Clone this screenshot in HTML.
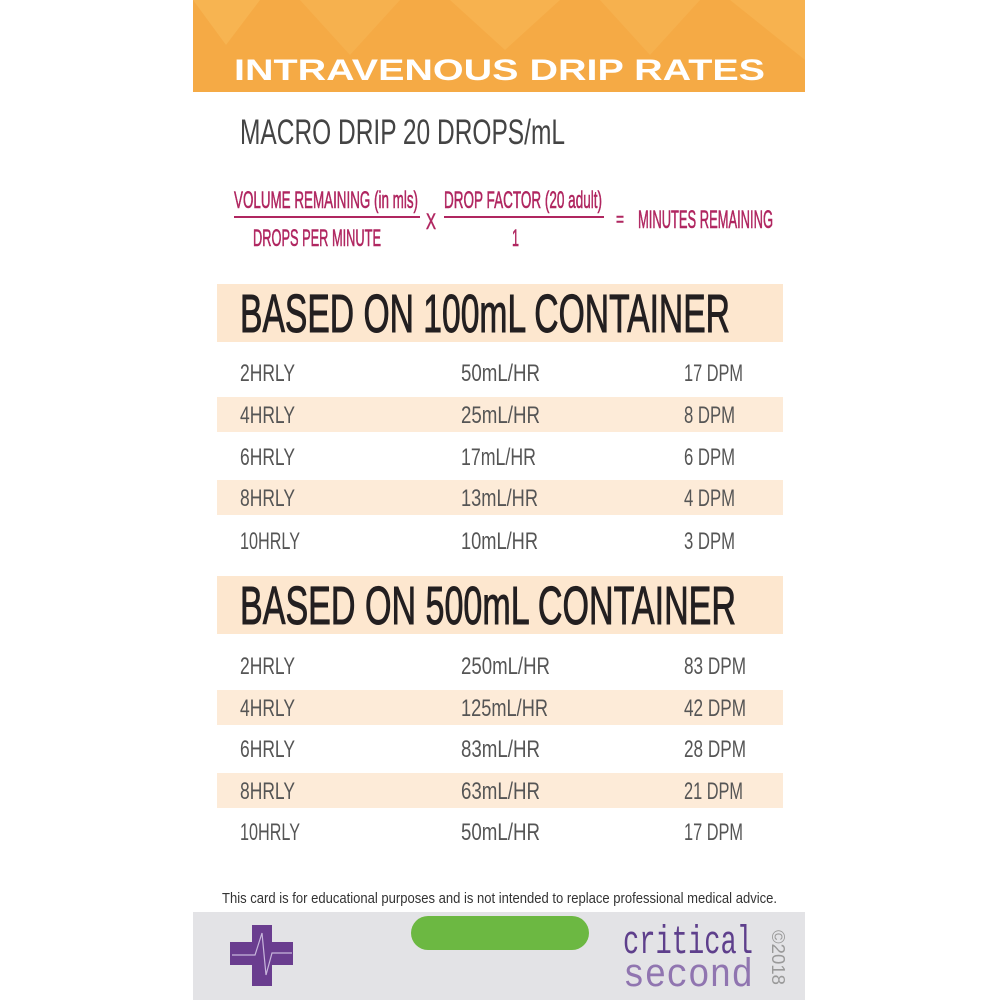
<!DOCTYPE html>
<html><head><meta charset="utf-8"><style>html,body{margin:0;padding:0;background:#fff}svg{display:block}</style></head>
<body>
<svg width="1000" height="1000" viewBox="0 0 1000 1000" xmlns="http://www.w3.org/2000/svg" font-family="Liberation Sans, sans-serif">
<rect width="1000" height="1000" fill="#fff"/>
<rect x="193" y="0" width="612" height="92" fill="#f5aa45"/>
<polygon points="193,0 260,0 226,45" fill="#f8b857" opacity="0.7"/>
<polygon points="300,0 400,0 350,55" fill="#f7b352" opacity="0.7"/>
<polygon points="450,0 560,0 505,50" fill="#f8b857" opacity="0.6"/>
<polygon points="600,0 700,0 650,55" fill="#f7b352" opacity="0.7"/>
<polygon points="730,0 805,0 805,60" fill="#f8b857" opacity="0.6"/>
<text x="234" y="80" font-size="30" font-weight="bold" fill="#fff" textLength="531" lengthAdjust="spacingAndGlyphs">INTRAVENOUS DRIP RATES</text>
<text x="240" y="144" font-size="35" fill="#444" textLength="325" lengthAdjust="spacingAndGlyphs">MACRO DRIP 20 DROPS/mL</text>
<g fill="#b02660" stroke="#b02660" stroke-width="0.6">
<text x="234" y="208" font-size="24" textLength="184" lengthAdjust="spacingAndGlyphs">VOLUME REMAINING (in mls)</text>
<rect x="234" y="216" width="186" height="2" stroke="none"/>
<text x="253" y="246" font-size="24" textLength="128" lengthAdjust="spacingAndGlyphs">DROPS PER MINUTE</text>
<text x="426" y="229" font-size="22" textLength="10" lengthAdjust="spacingAndGlyphs">X</text>
<text x="444" y="208" font-size="24" textLength="158" lengthAdjust="spacingAndGlyphs">DROP FACTOR (20 adult)</text>
<rect x="444" y="216" width="160" height="2" stroke="none"/>
<text x="512" y="246" font-size="24" textLength="7" lengthAdjust="spacingAndGlyphs">1</text>
<text x="616" y="226" font-size="20" textLength="8" lengthAdjust="spacingAndGlyphs">=</text>
<text x="638" y="228" font-size="25" textLength="135" lengthAdjust="spacingAndGlyphs">MINUTES REMAINING</text>
</g>
<rect x="217" y="284" width="566" height="58" fill="#fde7cf"/>
<text x="240" y="332" font-size="54" fill="#231f20" stroke="#231f20" stroke-width="1" textLength="490" lengthAdjust="spacingAndGlyphs">BASED ON 100mL CONTAINER</text>
<rect x="217" y="397" width="566" height="35" fill="#fdebd8"/>
<rect x="217" y="480" width="566" height="35" fill="#fdebd8"/>
<g font-size="24" fill="#555">
<text x="240" y="381" textLength="55" lengthAdjust="spacingAndGlyphs">2HRLY</text>
<text x="461" y="381" textLength="79" lengthAdjust="spacingAndGlyphs">50mL/HR</text>
<text x="684" y="381" textLength="59" lengthAdjust="spacingAndGlyphs">17 DPM</text>
<text x="240" y="423" textLength="55" lengthAdjust="spacingAndGlyphs">4HRLY</text>
<text x="461" y="423" textLength="79" lengthAdjust="spacingAndGlyphs">25mL/HR</text>
<text x="684" y="423" textLength="51" lengthAdjust="spacingAndGlyphs">8 DPM</text>
<text x="240" y="465" textLength="55" lengthAdjust="spacingAndGlyphs">6HRLY</text>
<text x="461" y="465" textLength="75" lengthAdjust="spacingAndGlyphs">17mL/HR</text>
<text x="684" y="465" textLength="51" lengthAdjust="spacingAndGlyphs">6 DPM</text>
<text x="240" y="506" textLength="55" lengthAdjust="spacingAndGlyphs">8HRLY</text>
<text x="461" y="506" textLength="77" lengthAdjust="spacingAndGlyphs">13mL/HR</text>
<text x="684" y="506" textLength="51" lengthAdjust="spacingAndGlyphs">4 DPM</text>
<text x="240" y="549" textLength="60" lengthAdjust="spacingAndGlyphs">10HRLY</text>
<text x="461" y="549" textLength="77" lengthAdjust="spacingAndGlyphs">10mL/HR</text>
<text x="684" y="549" textLength="51" lengthAdjust="spacingAndGlyphs">3 DPM</text>
</g>
<rect x="217" y="576" width="566" height="58" fill="#fde7cf"/>
<text x="240" y="624" font-size="54" fill="#231f20" stroke="#231f20" stroke-width="1" textLength="496" lengthAdjust="spacingAndGlyphs">BASED ON 500mL CONTAINER</text>
<rect x="217" y="690" width="566" height="35" fill="#fdebd8"/>
<rect x="217" y="773" width="566" height="35" fill="#fdebd8"/>
<g font-size="24" fill="#555">
<text x="240" y="674" textLength="55" lengthAdjust="spacingAndGlyphs">2HRLY</text>
<text x="461" y="674" textLength="89" lengthAdjust="spacingAndGlyphs">250mL/HR</text>
<text x="684" y="674" textLength="62" lengthAdjust="spacingAndGlyphs">83 DPM</text>
<text x="240" y="716" textLength="55" lengthAdjust="spacingAndGlyphs">4HRLY</text>
<text x="461" y="716" textLength="87" lengthAdjust="spacingAndGlyphs">125mL/HR</text>
<text x="684" y="716" textLength="62" lengthAdjust="spacingAndGlyphs">42 DPM</text>
<text x="240" y="757" textLength="55" lengthAdjust="spacingAndGlyphs">6HRLY</text>
<text x="461" y="757" textLength="79" lengthAdjust="spacingAndGlyphs">83mL/HR</text>
<text x="684" y="757" textLength="62" lengthAdjust="spacingAndGlyphs">28 DPM</text>
<text x="240" y="799" textLength="55" lengthAdjust="spacingAndGlyphs">8HRLY</text>
<text x="461" y="799" textLength="79" lengthAdjust="spacingAndGlyphs">63mL/HR</text>
<text x="684" y="799" textLength="59" lengthAdjust="spacingAndGlyphs">21 DPM</text>
<text x="240" y="840" textLength="60" lengthAdjust="spacingAndGlyphs">10HRLY</text>
<text x="461" y="840" textLength="79" lengthAdjust="spacingAndGlyphs">50mL/HR</text>
<text x="684" y="840" textLength="59" lengthAdjust="spacingAndGlyphs">17 DPM</text>
</g>
<text x="222" y="903" font-size="15" fill="#333" textLength="555" lengthAdjust="spacingAndGlyphs">This card is for educational purposes and is not intended to replace professional medical advice.</text>
<rect x="193" y="912" width="612" height="88" fill="#e3e3e6"/>
<rect x="411" y="916" width="178" height="34" rx="17" fill="#6cb842"/>
<rect x="252" y="925" width="20" height="61" fill="#6a3d8f"/>
<rect x="230" y="942" width="63" height="23" fill="#6a3d8f"/>
<polyline points="232,955 255,955 262,933 266,975 272,953 292,953" fill="none" stroke="#c8b6dc" stroke-width="1.2"/>
<text x="623" y="953" font-size="40" font-family="Liberation Mono, monospace" fill="#5e3f8c" textLength="130" lengthAdjust="spacingAndGlyphs">critical</text>
<text x="623" y="986" font-size="40" font-family="Liberation Mono, monospace" fill="#9075b0" textLength="130" lengthAdjust="spacingAndGlyphs">second</text>
<text transform="translate(772,930) rotate(90)" font-size="18" fill="#999" textLength="55" lengthAdjust="spacingAndGlyphs">©2018</text>
</svg>
</body></html>
